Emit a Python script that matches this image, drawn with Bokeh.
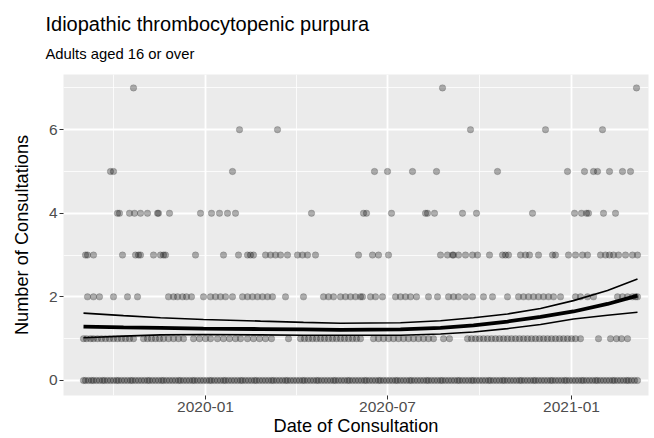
from datetime import datetime, timedelta
from bokeh.plotting import figure
from bokeh.models import FixedTicker, DatetimeTickFormatter, Title, Range1d
from bokeh.embed import file_html
from bokeh.resources import INLINE

START = datetime(2019, 9, 1)
EPOCH = datetime(1970, 1, 1)

def ms(d):
    return (d - EPOCH).total_seconds() * 1000.0

def day_ms(n):
    return ms(START + timedelta(days=n))

TITLE = "Idiopathic thrombocytopenic purpura"
SUBTITLE = "Adults aged 16 or over"
X_LABEL = "Date of Consultation"
Y_LABEL = "Number of Consultations"

# Day offsets (from 2019-09-01) of the daily counts, grouped by count
days_0 = [0, 2, 5, 8, 10, 13, 16, 19, 21, 24, 27, 30, 33, 35, 38, 41, 44, 47, 49, 52, 55, 58, 61, 64, 66,
          69, 72, 75, 78, 80, 83, 86, 89, 92, 95, 97, 100, 103, 106, 109, 111, 114, 117, 120, 123, 126,
          128, 131, 134, 137, 140, 142, 145, 148, 151, 154, 157, 159, 162, 165, 168, 171, 173, 176, 179,
          182, 185, 188, 190, 193, 196, 199, 202, 204, 207, 210, 213, 216, 219, 221, 224, 227, 230, 233,
          235, 238, 241, 244, 247, 250, 252, 255, 258, 261, 264, 266, 269, 272, 275, 278, 281, 283, 286,
          289, 292, 295, 297, 300, 303, 306, 309, 312, 314, 317, 320, 323, 326, 328, 331, 334, 337, 340,
          343, 345, 348, 351, 354, 357, 359, 362, 365, 368, 371, 374, 376, 379, 382, 385, 388, 390, 393,
          396, 399, 402, 405, 407, 410, 413, 416, 419, 421, 424, 427, 430, 433, 436, 438, 441, 444, 447,
          450, 452, 455, 458, 461, 464, 467, 469, 472, 475, 478, 481, 483, 486, 489, 492, 495, 498, 500,
          503, 506, 509, 512, 514, 517, 520, 523, 526, 529, 531, 534, 537, 540, 543, 545, 548, 551, 554]
days_1 = [0, 3, 7, 10, 14, 18, 22, 26, 30, 34, 38, 42, 46, 50, 60, 64, 68, 72, 76, 80, 85, 90, 95, 100,
          110, 116, 122, 127, 134, 140, 146, 152, 157, 164, 170, 176, 182, 188, 205, 217, 221, 225, 229,
          233, 237, 241, 245, 249, 253, 257, 261, 265, 269, 273, 277, 290, 295, 300, 305, 310, 315, 320,
          325, 330, 335, 340, 345, 350, 360, 366, 384, 388, 392, 396, 400, 404, 408, 412, 416, 420, 424,
          428, 432, 436, 440, 444, 448, 452, 456, 460, 464, 468, 472, 476, 480, 484, 488, 492, 497, 515,
          527, 533, 538, 544]
days_2 = [4, 10, 16, 30, 44, 54, 85, 90, 94, 99, 103, 108, 120, 127, 132, 137, 142, 149, 159, 164, 169,
          174, 179, 184, 189, 202, 220, 240, 245, 250, 257, 262, 267, 272, 277, 279, 287, 292, 299, 312,
          317, 322, 327, 333, 345, 354, 365, 370, 375, 382, 389, 400, 409, 424, 435, 440, 445, 450, 455,
          460, 465, 470, 477, 492, 497, 504, 510, 534, 539, 544, 549, 552, 554]
days_3 = [2, 4, 10, 39, 52, 55, 57, 70, 77, 80, 82, 112, 140, 155, 164, 167, 170, 182, 187, 192, 197,
          204, 214, 219, 224, 232, 275, 289, 295, 305, 357, 364, 369, 370, 375, 382, 389, 394, 406, 419,
          422, 425, 437, 442, 446, 455, 469, 472, 485, 492, 499, 504, 517, 522, 526, 530, 535, 542, 549,
          554]
days_4 = [34, 36, 46, 51, 57, 64, 74, 75, 86, 117, 128, 136, 144, 152, 228, 280, 283, 308, 342, 344,
          351, 379, 393, 449, 491, 498, 503, 505, 520, 532]
days_5 = [27, 30, 149, 291, 304, 329, 353, 414, 484, 501, 510, 514, 526, 539, 547]
days_6 = [156, 194, 387, 462, 519]
days_7 = [50, 359, 553]

# Smoothed trend with its confidence band, read at these day offsets
fit_days = [0, 40, 77, 120, 177, 220, 257, 317, 357, 390, 424, 457, 490, 524, 554]
fit_vals = [1.29, 1.27, 1.26, 1.24, 1.23, 1.22, 1.21, 1.22, 1.26, 1.32, 1.41, 1.52, 1.65, 1.83, 2.03]
upper_vals = [1.61, 1.55, 1.50, 1.46, 1.42, 1.39, 1.37, 1.38, 1.43, 1.50, 1.59, 1.72, 1.91, 2.15, 2.43]
lower_vals = [1.02, 1.06, 1.09, 1.10, 1.09, 1.08, 1.08, 1.08, 1.11, 1.16, 1.24, 1.34, 1.47, 1.56, 1.63]

x_major = [datetime(2020, 1, 1), datetime(2020, 7, 1), datetime(2021, 1, 1)]
x_minor = [datetime(2019, 10, 1), datetime(2020, 4, 1), datetime(2020, 10, 1), datetime(2021, 4, 1)]
y_major = [0, 2, 4, 6]
y_minor = [1, 3, 5, 7]

FONT = "Liberation Sans"

p = figure(width=654, height=438, x_axis_type="datetime", output_backend="svg",
           toolbar_location=None, min_border_left=63, min_border_right=6,
           min_border_top=74, min_border_bottom=43)
p.x_range = Range1d(day_ms(-20), day_ms(565))
p.y_range = Range1d(-0.36, 7.32)

p.background_fill_color = "#ebebeb"
p.border_fill_color = "white"
p.outline_line_color = None

sub = Title(text=SUBTITLE, text_font=FONT, text_font_size="14.8px", text_font_style="normal",
            align="left", offset=-18, standoff=22, vertical_align="top", text_color="black")
main = Title(text=TITLE, text_font=FONT, text_font_size="20px", text_font_style="normal",
             align="left", offset=-18, standoff=0, vertical_align="bottom", text_color="black")
p.add_layout(sub, "above")
p.add_layout(main, "above")

p.xaxis.ticker = FixedTicker(ticks=[ms(d) for d in x_major], minor_ticks=[ms(d) for d in x_minor])
fmt = "%Y-%m"
p.xaxis.formatter = DatetimeTickFormatter(milliseconds=fmt, seconds=fmt, minsec=fmt, minutes=fmt,
                                          hourmin=fmt, hours=fmt, days=fmt, months=fmt, years=fmt)
p.yaxis.ticker = FixedTicker(ticks=y_major, minor_ticks=y_minor)

for ax in (p.xaxis[0], p.yaxis[0]):
    ax.axis_line_color = None
    ax.major_tick_line_color = "#333333"
    ax.major_tick_out = 4
    ax.major_tick_in = 0
    ax.minor_tick_line_color = None
    ax.major_label_text_font = FONT
    ax.major_label_text_font_size = "15.5px"
    ax.major_label_text_color = "#4d4d4d"
    ax.major_label_standoff = 2
    ax.axis_label_text_font = FONT
    ax.axis_label_text_font_size = "18.2px"
    ax.axis_label_text_font_style = "normal"
    ax.axis_label_text_color = "black"

p.xaxis.axis_label = X_LABEL
p.xaxis.axis_label_standoff = 1
p.yaxis.axis_label = Y_LABEL
p.yaxis.axis_label_standoff = 14

for g in (p.xgrid[0], p.ygrid[0]):
    g.grid_line_color = "white"
    g.grid_line_width = 1.8
    g.minor_grid_line_color = "white"
    g.minor_grid_line_width = 0.8

rows = [days_0, days_1, days_2, days_3, days_4, days_5, days_6, days_7]
for count, days in enumerate(rows):
    p.scatter([day_ms(d) for d in days], [count] * len(days), size=6.5,
              fill_color="black", fill_alpha=0.3, line_color="black", line_alpha=0.15)

fx = [day_ms(d) for d in fit_days]
p.line(fx, upper_vals, line_color="black", line_width=1.6)
p.line(fx, lower_vals, line_color="black", line_width=1.6)
p.line(fx, fit_vals, line_color="black", line_width=3.8)

open("out.html", "w").write(file_html(p, INLINE))
